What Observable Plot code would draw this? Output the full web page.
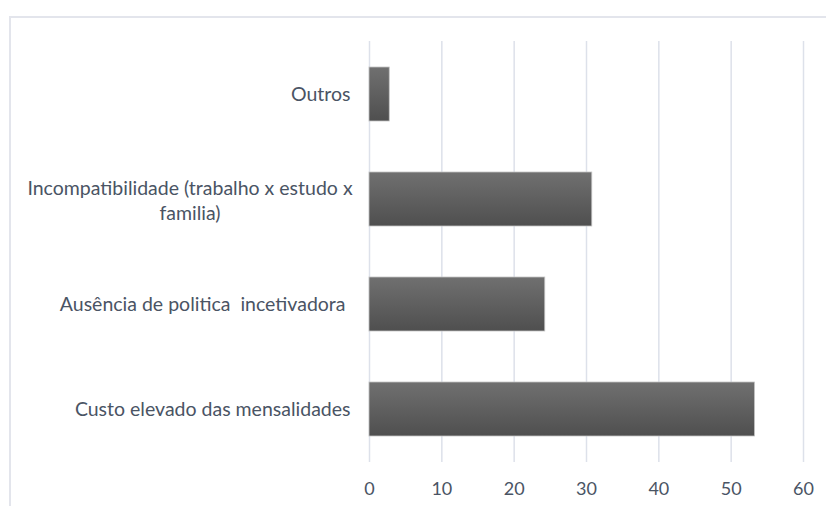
<!DOCTYPE html>
<html>
<head>
<meta charset="utf-8">
<script src="https://cdn.jsdelivr.net/npm/d3@7"></script>
<script src="https://cdn.jsdelivr.net/npm/@observablehq/plot@0.6"></script>
<style>
  html, body { margin: 0; padding: 0; background: #fff; overflow: hidden; width: 826px; height: 506px; }
  #border { position: absolute; left: 9px; top: 16px; width: 900px; height: 600px; border-left: 2px solid #e3e5ec; border-top: 2px solid #e3e5ec; box-sizing: border-box; }
  #chart { position: absolute; left: 0; top: 0; }
  #chart svg text { white-space: pre; }
</style>
</head>
<body>
<div id="border"></div>
<div id="chart"></div>
<script>
const categories = [
  "Custo elevado das mensalidades",
  "Ausência de politica  incetivadora ",
  "Incompatibilidade (trabalho x estudo x familia)",
  "Outros"
];
const values = [53.3, 24.3, 30.8, 2.8];
const wrappedLabel = "Incompatibilidade (trabalho x estudo x\nfamilia)";
const xTicks = [0, 10, 20, 30, 40, 50, 60];

const data = categories.map((c, i) => ({category: c, value: values[i]}));
const yOrder = categories.slice().reverse();
const wrappedCategory = categories[2];

const textColor = "#4a5464";

const chart = Plot.plot({
  width: 826,
  height: 506,
  marginLeft: 369,
  marginRight: 23,
  marginTop: 41,
  marginBottom: 44,
  style: {fontFamily: "Lato, sans-serif", fontSize: "19.5px", color: textColor, background: "transparent"},
  x: {domain: [0, 60], ticks: xTicks},
  y: {domain: yOrder, paddingInner: 0.487, paddingOuter: 0.245},
  marks: [
    Plot.gridX(xTicks, {stroke: "#dde1ea", strokeOpacity: 1, strokeWidth: 1.5}),
    Plot.barX(data, {y: "category", x: "value", fill: "url(#barGrad)", stroke: "#c4c4c4", strokeWidth: 0.8}),
    Plot.axisX({ticks: xTicks, tickSize: 0, tickPadding: 20, fill: textColor, fontSize: 18, label: null}),
    Plot.axisY({tickSize: 0, tickPadding: 19, fill: textColor, fontSize: 19.5, label: null,
      tickFormat: d => d === wrappedCategory ? "" : d}),
    Plot.text([wrappedCategory], {y: d => d, frameAnchor: "left", dx: -179.5, text: () => wrappedLabel,
      textAnchor: "middle", lineHeight: 1.3, fill: textColor, fontSize: 19.5})
  ]
});

const svg = d3.select(chart);
const defs = svg.insert("defs", ":first-child");
const g = defs.append("linearGradient").attr("id", "barGrad").attr("x1", 0).attr("y1", 0).attr("x2", 0).attr("y2", 1);
g.append("stop").attr("offset", "0%").attr("stop-color", "#707070");
g.append("stop").attr("offset", "100%").attr("stop-color", "#4f4f4f");

document.getElementById("chart").appendChild(chart);
</script>
</body>
</html>
